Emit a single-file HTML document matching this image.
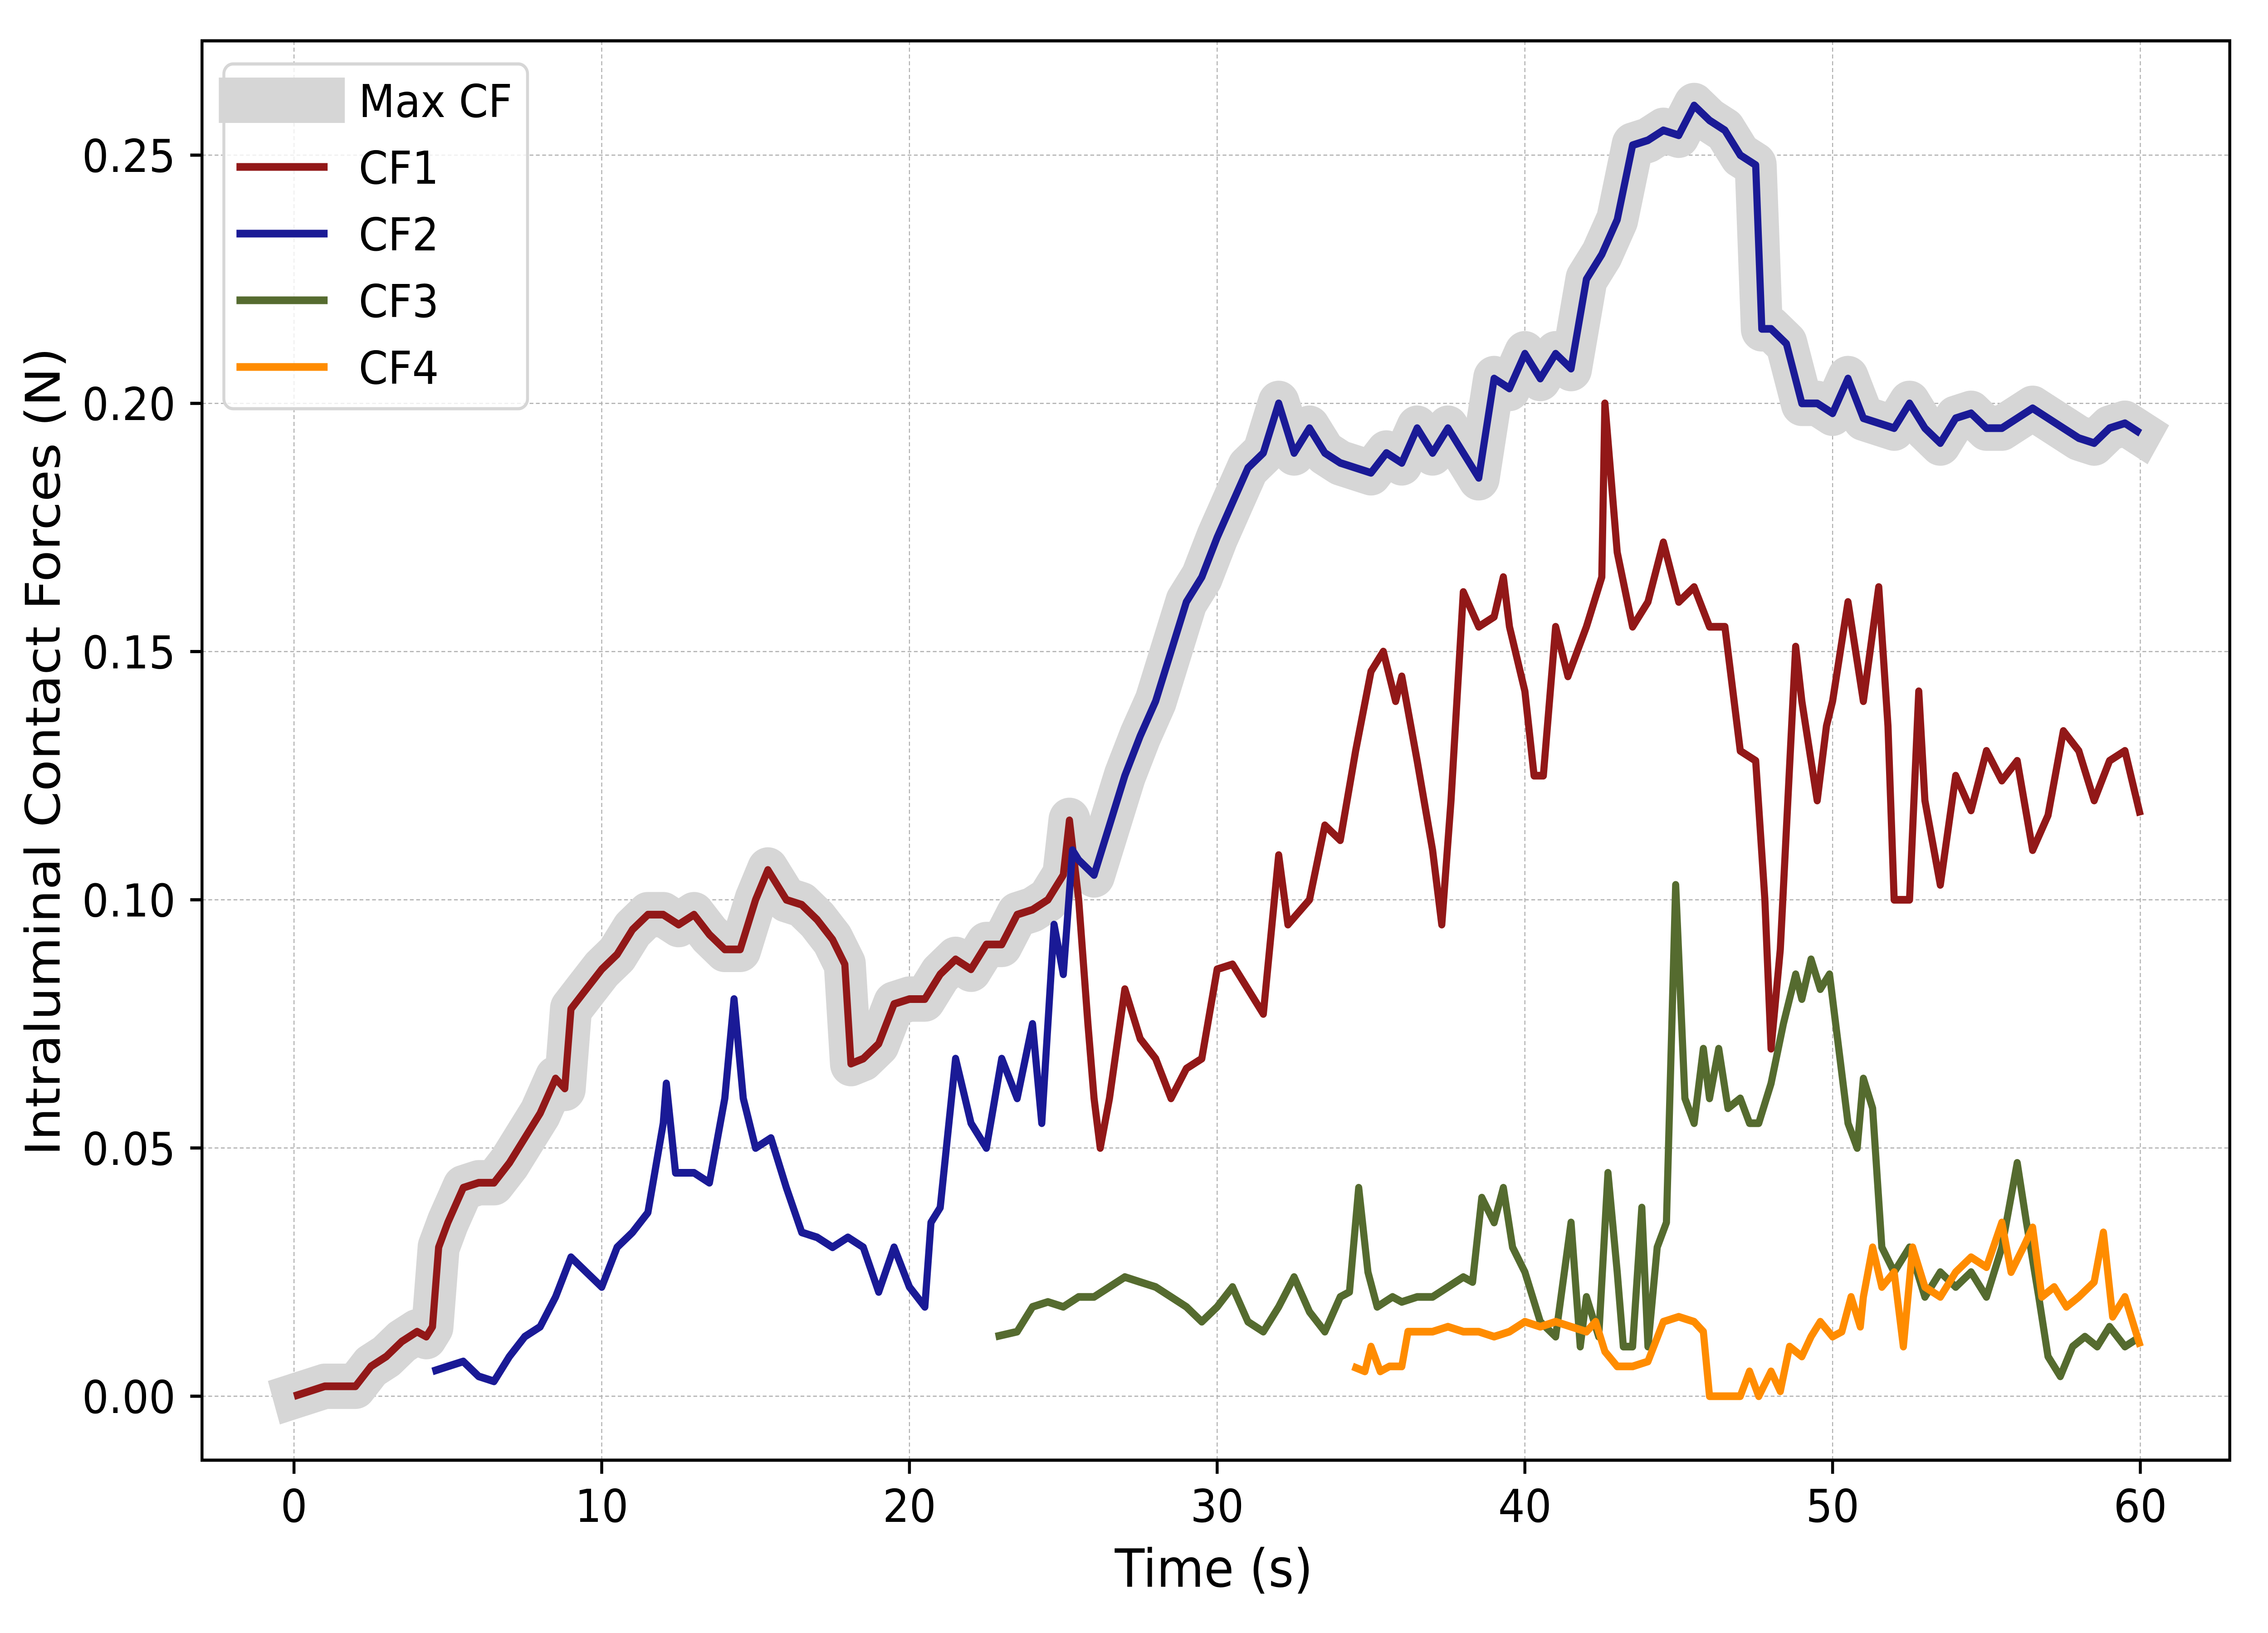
<!DOCTYPE html>
<html><head><meta charset="utf-8"><style>
html,body{margin:0;padding:0;background:#fff;overflow:hidden;width:100%;height:100%}
svg{display:block;width:100vw;height:100vh}
text{font-family:"DejaVu Sans","Liberation Sans",sans-serif;fill:#000}
</style></head><body>
<svg id="chart" viewBox="0 0 5400 3600" preserveAspectRatio="none" xmlns="http://www.w3.org/2000/svg">
<rect x="0" y="0" width="5400" height="3600" fill="#fff"/>
<g id="grid"></g>
<g id="series"></g>
<rect x="481" y="90" width="4828" height="3129" fill="none" stroke="#000" stroke-width="7"/>
<g id="ticks"></g>
<text x="2890" y="3498" font-size="116" text-anchor="middle">Time (s)</text>
<text x="0" y="0" font-size="114" text-anchor="middle" transform="translate(142,1657) rotate(-90)">Intraluminal Contact Forces (N)</text>
<g>
<rect x="533" y="141" width="723" height="760" rx="22" fill="#fff" fill-opacity="0.8" stroke="#d6d6d6" stroke-width="7"/>
<rect x="521" y="171" width="300" height="100" fill="#d6d6d6"/>
<text x="854" y="258" font-size="100">Max CF</text>
<line x1="563" y1="368" x2="780" y2="368" stroke="#921818" stroke-width="17"/>
<text x="854" y="405" font-size="100">CF1</text>
<line x1="563" y1="515" x2="780" y2="515" stroke="#1a1a96" stroke-width="17"/>
<text x="854" y="552" font-size="100">CF2</text>
<line x1="563" y1="662" x2="780" y2="662" stroke="#556b2f" stroke-width="17"/>
<text x="854" y="699" font-size="100">CF3</text>
<line x1="563" y1="809" x2="780" y2="809" stroke="#ff8c00" stroke-width="17"/>
<text x="854" y="846" font-size="100">CF4</text>
</g>
</svg>
<script>
const xTicks=[0,10,20,30,40,50,60];
const yTicks=[0,0.05,0.10,0.15,0.20,0.25];
const yTickLabels=["0.00","0.05","0.10","0.15","0.20","0.25"];
const cf1T=[0,0.5,1,1.5,2,2.5,3,3.5,4,4.3,4.5,4.7,5,5.5,6,6.5,7,7.5,8,8.5,8.8,9,9.5,10,10.5,11,11.5,12,12.5,13,13.5,14,14.5,15,15.4,16,16.5,17,17.5,17.9,18.1,18.5,19,19.5,20,20.5,21,21.5,22,22.5,23,23.5,24,24.5,25,25.2,25.5,25.8,26,26.2,26.5,27,27.5,28,28.5,29,29.5,30,30.5,31,31.5,32,32.3,33,33.5,34,34.5,35,35.4,35.8,36,36.5,37,37.3,37.6,38,38.5,39,39.3,39.5,40,40.3,40.6,41,41.4,42,42.5,42.6,43,43.5,44,44.5,45,45.5,46,46.5,47,47.5,47.8,48,48.3,48.8,49,49.5,49.8,50,50.5,51,51.5,51.8,52,52.5,52.8,53,53.5,54,54.5,55,55.5,56,56.5,57,57.5,58,58.5,59,59.5,60];
const cf1V=[0,0.001,0.002,0.002,0.002,0.006,0.008,0.011,0.013,0.012,0.014,0.03,0.035,0.042,0.043,0.043,0.047,0.052,0.057,0.064,0.062,0.078,0.082,0.086,0.089,0.094,0.097,0.097,0.095,0.097,0.093,0.09,0.09,0.1,0.106,0.1,0.099,0.096,0.092,0.087,0.067,0.068,0.071,0.079,0.08,0.08,0.085,0.088,0.086,0.091,0.091,0.097,0.098,0.1,0.105,0.116,0.1,0.075,0.06,0.05,0.06,0.082,0.072,0.068,0.06,0.066,0.068,0.086,0.087,0.082,0.077,0.109,0.095,0.1,0.115,0.112,0.13,0.146,0.15,0.14,0.145,0.128,0.11,0.095,0.12,0.162,0.155,0.157,0.165,0.155,0.142,0.125,0.125,0.155,0.145,0.155,0.165,0.2,0.17,0.155,0.16,0.172,0.16,0.163,0.155,0.155,0.13,0.128,0.1,0.07,0.09,0.151,0.14,0.12,0.135,0.14,0.16,0.14,0.163,0.135,0.1,0.1,0.142,0.12,0.103,0.125,0.118,0.13,0.124,0.128,0.11,0.117,0.134,0.13,0.12,0.128,0.13,0.117];
const cf2T=[4.5,5,5.5,6,6.5,7,7.5,8,8.5,9,9.5,10,10.5,11,11.5,12,12.1,12.4,13,13.5,14,14.3,14.6,15,15.5,16,16.5,17,17.5,18,18.5,19,19.5,20,20.5,20.7,21,21.5,22,22.5,23,23.5,24,24.3,24.7,25,25.3,25.5,26,26.5,27,27.5,28,28.5,29,29.5,30,30.5,31,31.5,32,32.5,33,33.5,34,35,35.5,36,36.5,37,37.5,38,38.5,39,39.5,40,40.5,41,41.5,42,42.5,43,43.5,44,44.5,45,45.5,46,46.5,47,47.5,47.7,48,48.5,49,49.5,50,50.5,51,52,52.5,53,53.5,54,54.5,55,55.5,56,56.5,57,57.5,58,58.5,59,59.5,60];
const cf2V=[0.005,0.006,0.007,0.004,0.003,0.008,0.012,0.014,0.02,0.028,0.025,0.022,0.03,0.033,0.037,0.055,0.063,0.045,0.045,0.043,0.06,0.08,0.06,0.05,0.052,0.042,0.033,0.032,0.03,0.032,0.03,0.021,0.03,0.022,0.018,0.035,0.038,0.068,0.055,0.05,0.068,0.06,0.075,0.055,0.095,0.085,0.11,0.108,0.105,0.115,0.125,0.133,0.14,0.15,0.16,0.165,0.173,0.18,0.187,0.19,0.2,0.19,0.195,0.19,0.188,0.186,0.19,0.188,0.195,0.19,0.195,0.19,0.185,0.205,0.203,0.21,0.205,0.21,0.207,0.225,0.23,0.237,0.252,0.253,0.255,0.254,0.26,0.257,0.255,0.25,0.248,0.215,0.215,0.212,0.2,0.2,0.198,0.205,0.197,0.195,0.2,0.195,0.192,0.197,0.198,0.195,0.195,0.197,0.199,0.197,0.195,0.193,0.192,0.195,0.196,0.194];
const cf3T=[22.8,23.5,24,24.5,25,25.5,26,26.5,27,27.5,28,28.5,29,29.5,30,30.5,31,31.5,32,32.5,33,33.5,34,34.3,34.6,34.9,35.2,35.7,36,36.5,37,37.5,38,38.3,38.6,39,39.3,39.6,40,40.5,41,41.5,41.8,42,42.4,42.7,43,43.2,43.5,43.8,44,44.3,44.6,44.9,45.2,45.5,45.8,46,46.3,46.6,47,47.3,47.6,48,48.4,48.8,49,49.3,49.6,49.9,50.2,50.5,50.8,51,51.3,51.6,52,52.5,53,53.5,54,54.5,55,55.5,56,56.3,56.7,57,57.4,57.8,58.2,58.6,59,59.5,60];
const cf3V=[0.012,0.013,0.018,0.019,0.018,0.02,0.02,0.022,0.024,0.023,0.022,0.02,0.018,0.015,0.018,0.022,0.015,0.013,0.018,0.024,0.017,0.013,0.02,0.021,0.042,0.025,0.018,0.02,0.019,0.02,0.02,0.022,0.024,0.023,0.04,0.035,0.042,0.03,0.025,0.015,0.012,0.035,0.01,0.02,0.012,0.045,0.025,0.01,0.01,0.038,0.01,0.03,0.035,0.103,0.06,0.055,0.07,0.06,0.07,0.058,0.06,0.055,0.055,0.063,0.075,0.085,0.08,0.088,0.082,0.085,0.07,0.055,0.05,0.064,0.058,0.03,0.025,0.03,0.02,0.025,0.022,0.025,0.02,0.03,0.047,0.035,0.02,0.008,0.004,0.01,0.012,0.01,0.014,0.01,0.012];
const cf4T=[34.4,34.8,35,35.3,35.6,36,36.2,37,37.5,38,38.5,39,39.5,40,40.5,41,41.5,42,42.3,42.6,43,43.5,44,44.5,45,45.5,45.8,46,46.5,47,47.3,47.6,48,48.3,48.6,49,49.3,49.6,50,50.3,50.6,50.9,51,51.3,51.6,52,52.3,52.6,53,53.5,54,54.5,55,55.5,55.8,56.2,56.5,56.8,57.2,57.6,58,58.5,58.8,59.1,59.5,60];
const cf4V=[0.006,0.005,0.01,0.005,0.006,0.006,0.013,0.013,0.014,0.013,0.013,0.012,0.013,0.015,0.014,0.015,0.014,0.013,0.015,0.009,0.006,0.006,0.007,0.015,0.016,0.015,0.013,0,0,0,0.005,0,0.005,0.001,0.01,0.008,0.012,0.015,0.012,0.013,0.02,0.014,0.02,0.03,0.022,0.025,0.01,0.03,0.022,0.02,0.025,0.028,0.026,0.035,0.025,0.03,0.034,0.02,0.022,0.018,0.02,0.023,0.033,0.016,0.02,0.01];
const maxT=[0,0.5,1,1.5,2,2.5,3,3.5,4,4.3,4.5,4.7,5,5.5,6,6.5,7,7.5,8,8.5,8.8,9,9.5,10,10.5,11,11.5,12,12.5,13,13.5,14,14.5,15,15.4,16,16.5,17,17.5,17.9,18.1,18.5,19,19.5,20,20.5,21,21.5,22,22.5,23,23.5,24,24.5,25,25.2,25.5,26,26.5,27,27.5,28,28.5,29,29.5,30,30.5,31,31.5,32,32.5,33,33.5,34,35,35.5,36,36.5,37,37.5,38,38.5,39,39.5,40,40.5,41,41.5,42,42.5,43,43.5,44,44.5,45,45.5,46,46.5,47,47.5,47.7,48,48.5,49,49.5,50,50.5,51,52,52.5,53,53.5,54,54.5,55,55.5,56,56.5,57,57.5,58,58.5,59,59.5,60];
const maxV=[0,0.001,0.002,0.002,0.002,0.006,0.008,0.011,0.013,0.012,0.014,0.03,0.035,0.042,0.043,0.043,0.047,0.052,0.057,0.064,0.062,0.078,0.082,0.086,0.089,0.094,0.097,0.097,0.095,0.097,0.093,0.09,0.09,0.1,0.106,0.1,0.099,0.096,0.092,0.087,0.067,0.068,0.071,0.079,0.08,0.08,0.085,0.088,0.086,0.091,0.091,0.097,0.098,0.1,0.105,0.116,0.108,0.105,0.115,0.125,0.133,0.14,0.15,0.16,0.165,0.173,0.18,0.187,0.19,0.2,0.19,0.195,0.19,0.188,0.186,0.19,0.188,0.195,0.19,0.195,0.19,0.185,0.205,0.203,0.21,0.205,0.21,0.207,0.225,0.23,0.237,0.252,0.253,0.255,0.254,0.26,0.257,0.255,0.25,0.248,0.215,0.215,0.212,0.2,0.2,0.198,0.205,0.197,0.195,0.2,0.195,0.192,0.197,0.198,0.195,0.195,0.197,0.199,0.197,0.195,0.193,0.192,0.195,0.196,0.194];

const NS="http://www.w3.org/2000/svg";
const X0=481,X1=5309,Y0=90,Y1=3219;
function xs(t){return 700+t*(5096-700)/60;}
function ys(v){return 3078-v*(3078-342)/0.25;}
const grid=document.getElementById('grid');
const ticks=document.getElementById('ticks');
const series=document.getElementById('series');
function mk(tag,attrs,parent){const e=document.createElementNS(NS,tag);for(const k in attrs)e.setAttribute(k,attrs[k]);parent.appendChild(e);return e;}
xTicks.forEach(t=>{
  const g=mk('line',{x1:xs(t),x2:xs(t),y1:Y0,y2:Y1,stroke:'#b0b0b0','stroke-width':2.5,'stroke-dasharray':'9,6'},grid);
  
  
  const tk=mk('line',{x1:xs(t),x2:xs(t),y1:Y1,y2:Y1+30,stroke:'#000','stroke-width':7},ticks);
  
  
  const tx=mk('text',{x:xs(t),y:3355,'font-size':100,'text-anchor':'middle'},ticks);
  tx.textContent=String(t);
  
  
});
yTicks.forEach((v,i)=>{
  const g=mk('line',{x1:X0,x2:X1,y1:ys(v),y2:ys(v),stroke:'#b0b0b0','stroke-width':2.5,'stroke-dasharray':'9,6'},grid);
  
  
  const tk=mk('line',{x1:X0-28,x2:X0,y1:ys(v),y2:ys(v),stroke:'#000','stroke-width':7},ticks);
  
  
  const tx=mk('text',{x:418,y:ys(v)+37,'font-size':100,'text-anchor':'end'},ticks);
  tx.textContent=yTickLabels[i];
  
  
});
function path(T,V){return T.map((t,i)=>(i?'L':'M')+xs(t).toFixed(1)+','+ys(V[i]).toFixed(1)).join('');}
const pm=mk('path',{d:path(maxT,maxV),fill:'none',stroke:'#d6d6d6','stroke-width':100,'stroke-linejoin':'round','stroke-linecap':'square'},series);


const defs=[[cf1T,cf1V,'#921818','cf1-line'],[cf2T,cf2V,'#1a1a96','cf2-line'],[cf3T,cf3V,'#556b2f','cf3-line'],[cf4T,cf4V,'#ff8c00','cf4-line']];
defs.forEach(d=>{
  const p=mk('path',{d:path(d[0],d[1]),fill:'none',stroke:d[2],'stroke-width':17,'stroke-linejoin':'round'},series);
  
  
});
</script>
</body></html>
